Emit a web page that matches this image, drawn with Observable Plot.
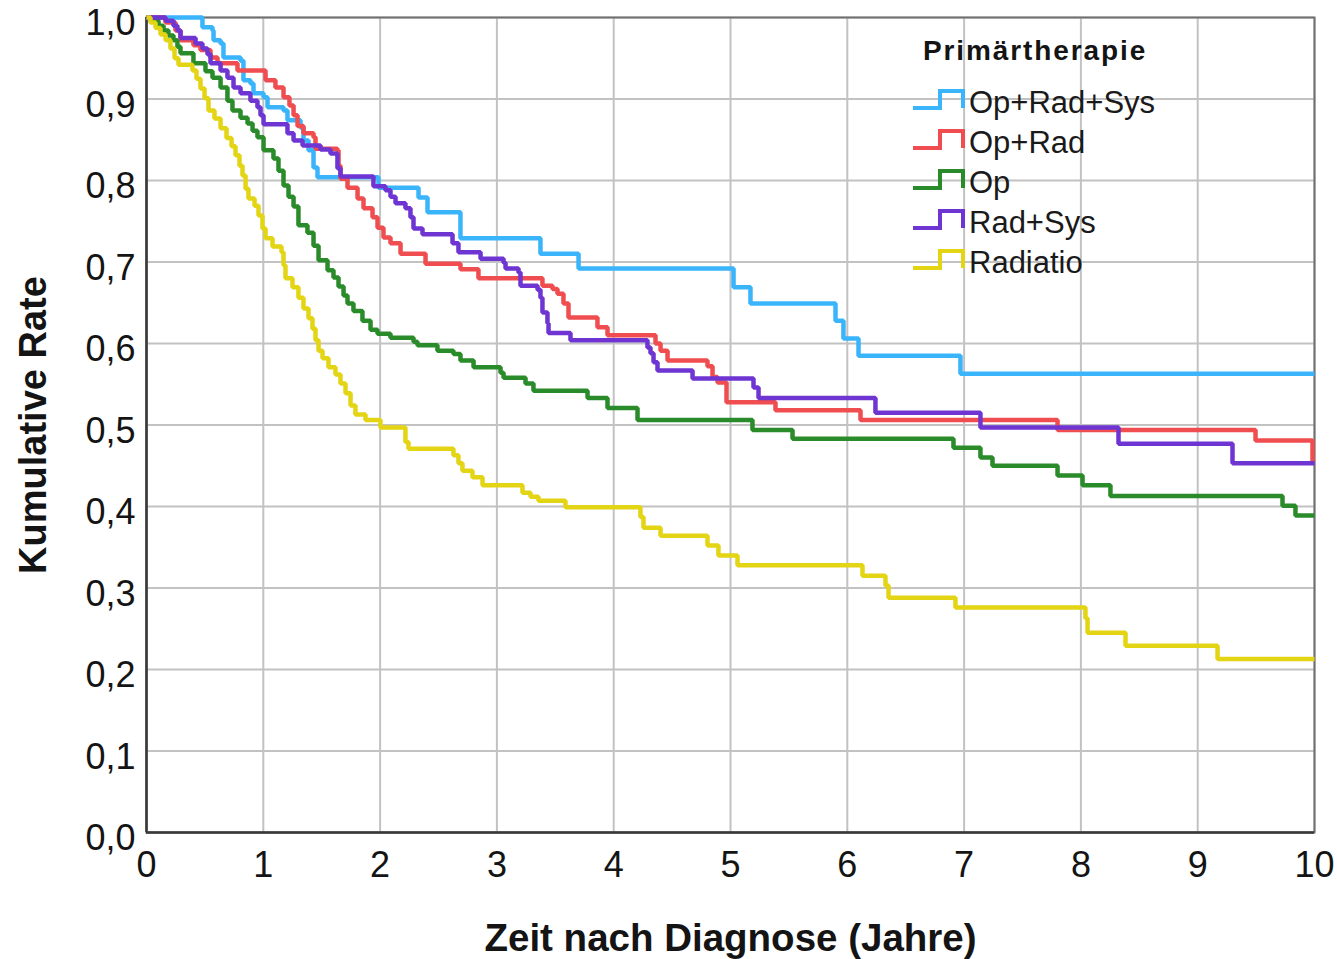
<!DOCTYPE html>
<html lang="de">
<head>
<meta charset="utf-8">
<title>Kumulative Rate nach Primärtherapie</title>
<script src="https://cdn.jsdelivr.net/npm/d3@7"></script>
<script src="https://cdn.jsdelivr.net/npm/@observablehq/plot@0.6"></script>
<style>
  html, body { margin: 0; padding: 0; background: #fff; overflow: hidden; }
  #chart svg { display: block; }
</style>
</head>
<body>
<div id="chart"></div>
<script>
// Kaplan-Meier estimates: [time in years, cumulative rate]; each value holds until the next time.
const opRadSys = [[0,1.000],[0.479,0.988],[0.565,0.984],[0.574,0.972],[0.634,0.968],[0.659,0.951],[0.805,0.947],[0.830,0.923],[0.890,0.919],[0.916,0.907],[1.002,0.902],[1.036,0.890],[1.173,0.886],[1.207,0.874],[1.318,0.865],[1.344,0.849],[1.387,0.837],[1.430,0.816],[1.464,0.804],[1.986,0.791],[2.329,0.779],[2.406,0.761],[2.688,0.729],[3.373,0.710],[3.699,0.692],[5.026,0.669],[5.171,0.649],[5.899,0.628],[5.967,0.606],[6.096,0.585],[6.969,0.563],[10,0.563]];

const opRad = [[0,1.000],[0.163,0.994],[0.248,0.984],[0.291,0.972],[0.402,0.966],[0.462,0.960],[0.548,0.951],[0.608,0.944],[0.779,0.935],[1.019,0.923],[1.104,0.914],[1.173,0.902],[1.224,0.892],[1.259,0.880],[1.293,0.867],[1.344,0.858],[1.430,0.853],[1.447,0.839],[1.635,0.837],[1.644,0.818],[1.661,0.802],[1.721,0.791],[1.807,0.778],[1.858,0.766],[1.935,0.755],[1.978,0.742],[2.029,0.730],[2.089,0.723],[2.175,0.710],[2.389,0.698],[2.688,0.691],[2.842,0.680],[3.390,0.671],[3.476,0.667],[3.519,0.661],[3.570,0.649],[3.613,0.632],[3.861,0.620],[3.947,0.610],[4.358,0.600],[4.401,0.591],[4.461,0.579],[4.803,0.572],[4.846,0.559],[4.889,0.552],[4.966,0.528],[5.385,0.518],[6.113,0.506],[7.800,0.494],[9.495,0.481],[9.983,0.456],[10,0.456]];

const op = [[0,1.000],[0.034,0.996],[0.103,0.990],[0.146,0.984],[0.188,0.978],[0.231,0.972],[0.265,0.964],[0.291,0.956],[0.402,0.944],[0.505,0.934],[0.565,0.926],[0.634,0.914],[0.693,0.898],[0.736,0.886],[0.805,0.877],[0.865,0.870],[0.908,0.861],[0.950,0.853],[1.002,0.837],[1.087,0.827],[1.130,0.812],[1.173,0.794],[1.216,0.780],[1.259,0.768],[1.301,0.745],[1.378,0.736],[1.430,0.720],[1.473,0.702],[1.550,0.690],[1.601,0.681],[1.644,0.670],[1.687,0.659],[1.721,0.649],[1.772,0.640],[1.849,0.628],[1.918,0.617],[1.978,0.612],[2.089,0.607],[2.286,0.602],[2.320,0.598],[2.491,0.591],[2.628,0.587],[2.688,0.579],[2.800,0.571],[3.031,0.564],[3.057,0.558],[3.245,0.551],[3.313,0.542],[3.776,0.533],[3.947,0.521],[4.204,0.506],[5.188,0.494],[5.531,0.483],[6.909,0.472],[7.140,0.460],[7.243,0.450],[7.800,0.438],[8.014,0.426],[8.253,0.413],[9.726,0.401],[9.837,0.389],[10,0.389]];

const radSys = [[0,1.000],[0.163,0.996],[0.231,0.990],[0.265,0.984],[0.291,0.975],[0.420,0.968],[0.479,0.962],[0.522,0.955],[0.548,0.944],[0.634,0.935],[0.693,0.926],[0.745,0.914],[0.805,0.907],[0.890,0.898],[0.950,0.890],[0.976,0.880],[1.002,0.869],[1.207,0.858],[1.259,0.849],[1.336,0.843],[1.490,0.838],[1.575,0.833],[1.635,0.815],[1.661,0.805],[1.943,0.793],[2.046,0.788],[2.089,0.780],[2.132,0.772],[2.217,0.766],[2.260,0.755],[2.286,0.741],[2.363,0.734],[2.620,0.723],[2.671,0.712],[2.860,0.704],[3.057,0.699],[3.074,0.692],[3.185,0.687],[3.202,0.671],[3.348,0.666],[3.373,0.656],[3.390,0.638],[3.433,0.625],[3.442,0.613],[3.630,0.604],[4.289,0.595],[4.315,0.588],[4.341,0.577],[4.375,0.567],[4.675,0.557],[5.197,0.546],[5.240,0.533],[6.241,0.515],[7.140,0.497],[8.322,0.477],[9.298,0.453],[10,0.453]];

const radiatio = [[0,1.000],[0.034,0.994],[0.077,0.987],[0.120,0.979],[0.163,0.972],[0.205,0.962],[0.240,0.950],[0.274,0.942],[0.394,0.935],[0.428,0.925],[0.462,0.913],[0.497,0.901],[0.531,0.886],[0.582,0.876],[0.634,0.864],[0.685,0.852],[0.728,0.842],[0.762,0.831],[0.796,0.818],[0.822,0.806],[0.848,0.790],[0.873,0.778],[0.925,0.769],[0.959,0.757],[0.993,0.741],[1.019,0.729],[1.079,0.719],[1.156,0.712],[1.173,0.696],[1.190,0.680],[1.250,0.669],[1.301,0.656],[1.344,0.643],[1.387,0.631],[1.421,0.618],[1.447,0.604],[1.473,0.591],[1.507,0.582],[1.558,0.571],[1.618,0.562],[1.661,0.551],[1.704,0.539],[1.747,0.524],[1.789,0.513],[1.875,0.506],[2.003,0.497],[2.217,0.479],[2.243,0.471],[2.628,0.463],[2.671,0.453],[2.705,0.444],[2.791,0.436],[2.877,0.426],[3.219,0.417],[3.288,0.412],[3.356,0.407],[3.587,0.399],[4.229,0.387],[4.255,0.374],[4.401,0.364],[4.803,0.352],[4.897,0.340],[5.060,0.328],[6.130,0.315],[6.327,0.303],[6.353,0.288],[6.926,0.276],[8.039,0.263],[8.057,0.245],[8.382,0.229],[9.170,0.213],[10,0.213]];

// Groups in legend order, with their colours
const groupNames = ["Op+Rad+Sys", "Op+Rad", "Op", "Rad+Sys", "Radiatio"];
const groupColors = ["#3ab4fb", "#ef4d4f", "#2a8b2a", "#6f35d3", "#e3d414"];
const groupData = [opRadSys, opRad, op, radSys, radiatio];

// Axis ticks and labels
const xTicks = [0, 1, 2, 3, 4, 5, 6, 7, 8, 9, 10];
const yTicks = [0, 0.1, 0.2, 0.3, 0.4, 0.5, 0.6, 0.7, 0.8, 0.9, 1.0];
const xTitle = "Zeit nach Diagnose (Jahre)";
const yTitle = "Kumulative Rate";
const legendTitle = "Primärtherapie";

const rows = groupData.flatMap((series, i) =>
  series.map(([t, s]) => ({group: groupNames[i], t, s}))
);

const fmtRate = d => d.toFixed(1).replace(".", ",");

const chart = Plot.plot({
  width: 1337,
  height: 959,
  marginTop: 17,
  marginRight: 23,
  marginBottom: 127,
  marginLeft: 146,
  style: {
    fontFamily: '"Liberation Sans", Arial, sans-serif',
    fontSize: "36px",
    color: "#141414",
    background: "#fff",
    overflow: "visible"
  },
  x: {domain: [0, 10]},
  y: {domain: [0, 1]},
  color: {domain: groupNames, range: groupColors},
  marks: [
    Plot.gridX(xTicks, {stroke: "#c2c2c2", strokeOpacity: 1, strokeWidth: 2}),
    Plot.gridY(yTicks, {stroke: "#c2c2c2", strokeOpacity: 1, strokeWidth: 2}),
    Plot.frame({stroke: "#707070", strokeWidth: 2}),
    Plot.ruleX([0], {stroke: "#3a3a3a", strokeWidth: 2.5}),
    Plot.ruleY([0], {stroke: "#3a3a3a", strokeWidth: 2.5}),
    Plot.line(rows, {
      x: "t",
      y: "s",
      z: "group",
      stroke: "group",
      curve: "step-after",
      strokeWidth: 4.5,
      strokeLinejoin: "miter",
      strokeLinecap: "butt"
    }),
    Plot.axisX(xTicks, {tickSize: 0, tickPadding: 19, tickFormat: d => String(d), label: null}),
    Plot.axisY(yTicks, {tickSize: 0, tickPadding: 11, tickFormat: fmtRate, dy: 6, label: null}),
    Plot.text([xTitle], {frameAnchor: "bottom", dy: 106, textAnchor: "middle", fontWeight: "bold", fontSize: 38.5, lineAnchor: "middle"}),
    Plot.text([yTitle], {frameAnchor: "left", dx: -113, rotate: -90, textAnchor: "middle", fontWeight: "bold", fontSize: 38, lineAnchor: "middle"})
  ]
});

document.getElementById("chart").appendChild(chart);

// Legend: step symbol and group name for each therapy, inside the upper right of the plot
const svg = d3.select(chart);
const legend = svg.append("g")
  .attr("font-family", '"Liberation Sans", Arial, sans-serif')
  .attr("text-anchor", "start")
  .attr("transform", "translate(913,0)");

legend.append("text")
  .attr("x", 10)
  .attr("y", 60)
  .attr("font-size", 28)
  .attr("font-weight", "bold")
  .attr("letter-spacing", 1.9)
  .attr("fill", "#141414")
  .text(legendTitle);

groupNames.forEach((name, i) => {
  const base = 113 + 40 * i;
  const low = base - 5;
  const high = base - 22;
  legend.append("path")
    .attr("d", `M0,${low}H27V${high}H50V${low}`)
    .attr("fill", "none")
    .attr("stroke", groupColors[i])
    .attr("stroke-width", 4);
  legend.append("text")
    .attr("x", 56)
    .attr("y", base)
    .attr("font-size", 31)
    .attr("fill", "#1a1a1a")
    .text(name);
});
</script>
</body>
</html>
